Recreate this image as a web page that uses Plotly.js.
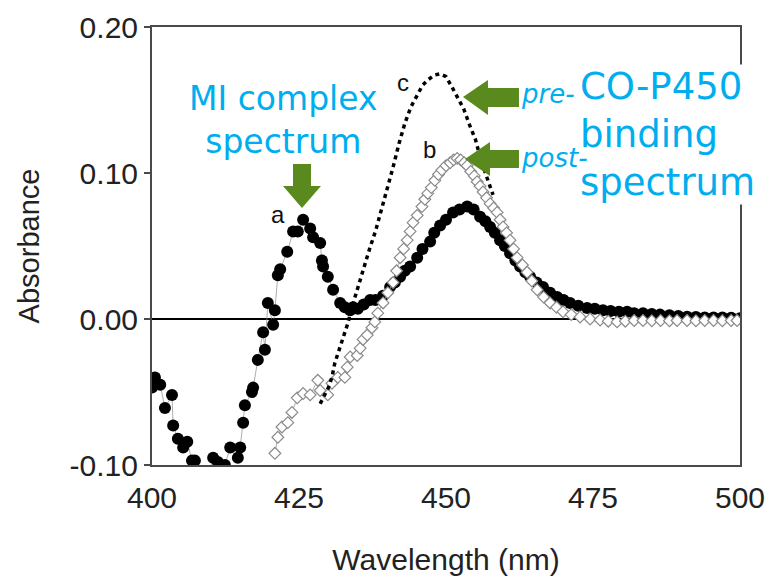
<!DOCTYPE html>
<html>
<head>
<meta charset="utf-8">
<script src="https://cdn.plot.ly/plotly-3.0.1.min.js"></script>
<style>
html,body{margin:0;padding:0;background:#fff;}
#chart{width:767px;height:580px;}
</style>
</head>
<body>
<div id="chart"></div>
<script>
// Curve a: MI complex spectrum (filled circles)
const aWavelength = [400.0,400.5,401.4,402.2,403.4,403.6,404.4,405.3,406.0,406.8,407.3,408.5,409.5,410.4,411.2,412.4,413.3,414.6,415.0,415.5,415.8,417.0,417.2,418.0,418.9,419.2,419.7,420.6,420.9,421.4,421.8,423.0,424.0,424.8,425.7,426.9,427.4,428.6,428.9,429.1,429.9,430.8,432.0,432.8,433.7,434.2,435.0,436.0,437.1,438.0,439.3,440.5,441.3,442.2,443.0,443.9,445.1,446.0,447.3,448.0,449.0,450.0,451.2,452.3,453.6,454.7,455.8,456.7,457.5,458.3,459.2,460.0,460.9,461.8,462.6,463.5,464.3,465.4,466.5,467.7,468.9,470.0,471.1,472.5,474.0,475.3,476.7,478.0,479.4,480.8,482.0,483.5,485.0,486.4,488.0,489.5,491.0,492.5,494.0,495.5,497.0,498.5,500.0];
const aAbsorbance = [-0.047,-0.040,-0.045,-0.061,-0.052,-0.073,-0.082,-0.088,-0.084,-0.097,-0.097,-0.105,-0.108,-0.095,-0.098,-0.100,-0.088,-0.095,-0.088,-0.071,-0.059,-0.050,-0.047,-0.028,-0.009,-0.021,0.011,-0.004,0.006,0.030,0.034,0.046,0.060,0.060,0.068,0.062,0.056,0.052,0.040,0.036,0.029,0.020,0.011,0.008,0.006,0.008,0.007,0.010,0.013,0.013,0.016,0.022,0.025,0.029,0.033,0.036,0.042,0.048,0.053,0.059,0.064,0.068,0.073,0.075,0.077,0.075,0.070,0.067,0.063,0.059,0.054,0.050,0.045,0.040,0.036,0.032,0.029,0.025,0.022,0.018,0.015,0.013,0.011,0.009,0.0075,0.007,0.006,0.0055,0.005,0.005,0.004,0.004,0.0035,0.003,0.0025,0.002,0.0015,0.0014,0.001,0.001,0.001,0.0008,0.0005];

// Curve b: post- CO-P450 binding spectrum (open diamonds)
const bWavelength = [420.9,421.4,422.1,423.1,423.8,424.7,425.7,426.9,428.2,428.6,429.9,430.6,431.6,432.8,433.2,433.7,434.9,435.4,435.9,436.6,437.4,437.9,438.4,439.3,440.1,441.0,441.6,442.2,442.8,443.4,443.9,444.4,445.1,445.9,446.4,446.9,447.5,448.1,448.7,449.3,450.0,450.7,451.3,451.9,452.5,453.1,453.6,454.2,454.8,455.3,455.8,456.3,456.9,457.5,458.1,458.7,459.2,459.7,460.3,460.9,461.5,462.1,463.0,463.8,464.6,465.5,466.6,467.7,468.8,469.9,471.3,472.8,474.5,476.2,477.6,479.1,480.5,482.0,483.5,485.0,486.5,488.0,489.3,491.0,492.5,494.0,495.5,497.0,498.5,499.5];
const bAbsorbance = [-0.092,-0.081,-0.074,-0.071,-0.064,-0.054,-0.051,-0.052,-0.042,-0.049,-0.052,-0.044,-0.040,-0.040,-0.033,-0.026,-0.025,-0.020,-0.014,-0.011,-0.006,-0.002,0.004,0.011,0.018,0.025,0.033,0.042,0.048,0.054,0.060,0.066,0.071,0.077,0.082,0.086,0.090,0.095,0.099,0.102,0.105,0.107,0.109,0.110,0.109,0.107,0.105,0.101,0.098,0.094,0.091,0.087,0.083,0.079,0.076,0.073,0.068,0.063,0.059,0.054,0.048,0.042,0.037,0.032,0.026,0.020,0.015,0.011,0.008,0.005,0.003,0.0014,0.000,-0.0007,-0.0015,-0.002,-0.0015,-0.001,-0.001,-0.0012,-0.001,-0.0012,-0.001,-0.001,-0.0012,-0.001,-0.001,-0.0012,-0.001,-0.001];

// Curve c: pre- CO-P450 binding spectrum (dotted line)
const cWavelength = [428.6,430.0,430.6,431.1,432.0,432.8,433.3,434.0,435.0,436.0,437.0,438.0,439.0,440.0,441.0,442.0,443.0,444.0,445.0,446.0,447.0,448.0,449.0,450.0,451.0,452.0,453.0,454.0,455.0,456.0,457.0,458.0];
const cAbsorbance = [-0.058,-0.047,-0.040,-0.030,-0.019,-0.010,-0.003,0.008,0.022,0.035,0.048,0.060,0.074,0.088,0.104,0.120,0.134,0.145,0.153,0.160,0.164,0.167,0.168,0.166,0.159,0.151,0.144,0.133,0.123,0.108,0.096,0.085];

const xTickVals = [400,425,450,475,500];
const yTickVals = [-0.10,0.00,0.10,0.20];
const yTickText = ['-0.10','0.00','0.10','0.20'];

// plot area in pixels (for placing decorations)
const L = 152, R = 740, T = 27, B = 465;
const px = x => (x - L) / (R - L);
const py = y => (B - y) / (B - T);
const pathPx = pts => pts.map((p,i)=>(i?'L':'M')+px(p[0]).toFixed(4)+','+py(p[1]).toFixed(4)).join(' ')+' Z';

const green = '#5a8a1e';
const cyan = '#00aeef';

const traces = [
  {x:aWavelength, y:aAbsorbance, mode:'lines+markers', type:'scatter',
   line:{color:'rgba(140,140,140,0.7)', width:1},
   marker:{symbol:'circle', size:12, color:'#000'}},
  {x:bWavelength, y:bAbsorbance, mode:'lines+markers', type:'scatter',
   line:{color:'rgba(150,150,150,0.8)', width:1},
   marker:{symbol:'diamond', size:9, color:'#fff', line:{color:'#8a8a8a', width:1.2}}},
  {x:cWavelength, y:cAbsorbance, mode:'lines', type:'scatter',
   line:{color:'#000', width:3.5, dash:'4px,4px'}}
];

const axisFont = {family:'Liberation Sans, Arial, sans-serif', size:30, color:'#222'};

const layout = {
  width:767, height:580,
  margin:{l:L, r:767-R, t:T, b:580-B},
  paper_bgcolor:'#fff', plot_bgcolor:'#fff',
  showlegend:false,
  xaxis:{
    range:[400,500], tickvals:xTickVals, ticks:'', showgrid:false, zeroline:false,
    showline:true, mirror:true, linecolor:'#4a4a4a', linewidth:2,
    tickfont:axisFont, ticklabelstandoff:5,
    title:{text:'Wavelength (nm)', font:axisFont, standoff:36}
  },
  yaxis:{
    range:[-0.10,0.20], tickvals:yTickVals, ticktext:yTickText, ticks:'outside', ticklen:6, tickwidth:2, tickcolor:'#4a4a4a',
    showgrid:false, zeroline:true, zerolinecolor:'#000', zerolinewidth:2,
    showline:true, mirror:true, linecolor:'#4a4a4a', linewidth:2,
    tickfont:axisFont, ticklabelstandoff:0,
    title:{text:'Absorbance', font:{family:'Liberation Sans, Arial, sans-serif', size:29, color:'#222'}, standoff:21}
  },
  shapes:[
    // left-pointing arrow (pre-)
    {type:'path', xref:'paper', yref:'paper', fillcolor:green, line:{width:0},
     path:pathPx([[463,97],[488,80],[488,88],[519,88],[519,107],[488,107],[488,115]])},
    // left-pointing arrow (post-)
    {type:'path', xref:'paper', yref:'paper', fillcolor:green, line:{width:0},
     path:pathPx([[465,159],[490,142],[490,150],[519,150],[519,168],[490,168],[490,176]])},
    // down arrow (MI complex)
    {type:'path', xref:'paper', yref:'paper', fillcolor:green, line:{width:0},
     path:pathPx([[302,208],[283,186],[293,186],[293,164],[311,164],[311,186],[321,186]])}
  ],
  annotations:[
    {xref:'paper', yref:'paper', x:px(283), y:py(120), xanchor:'center', yanchor:'middle', align:'center',
     text:'MI complex<br>spectrum', showarrow:false, font:{family:'DejaVu Sans', size:33, color:cyan}},
    {xref:'paper', yref:'paper', x:px(579), y:py(134), xanchor:'left', yanchor:'middle', align:'left',
     text:'CO-P450<br>binding<br>spectrum', showarrow:false, bgcolor:'#fff', borderpad:0,
     font:{family:'DejaVu Sans', size:37, color:cyan}},
    {xref:'paper', yref:'paper', x:px(519), y:py(94), xanchor:'left', yanchor:'middle',
     text:'<i>pre-</i>', showarrow:false, font:{family:'DejaVu Sans', size:26, color:cyan}},
    {xref:'paper', yref:'paper', x:px(519), y:py(158), xanchor:'left', yanchor:'middle',
     text:'<i>post-</i>', showarrow:false, font:{family:'DejaVu Sans', size:26, color:cyan}},
    {xref:'paper', yref:'paper', x:px(278), y:py(214), xanchor:'center', yanchor:'middle',
     text:'a', showarrow:false, font:{family:'Liberation Sans, Arial', size:24, color:'#111'}},
    {xref:'paper', yref:'paper', x:px(429), y:py(149), xanchor:'center', yanchor:'middle',
     text:'b', showarrow:false, font:{family:'Liberation Sans, Arial', size:24, color:'#111'}},
    {xref:'paper', yref:'paper', x:px(403), y:py(82), xanchor:'center', yanchor:'middle',
     text:'c', showarrow:false, font:{family:'Liberation Sans, Arial', size:24, color:'#111'}}
  ]
};

Plotly.newPlot('chart', traces, layout, {staticPlot:true, displayModeBar:false});
</script>
</body>
</html>
